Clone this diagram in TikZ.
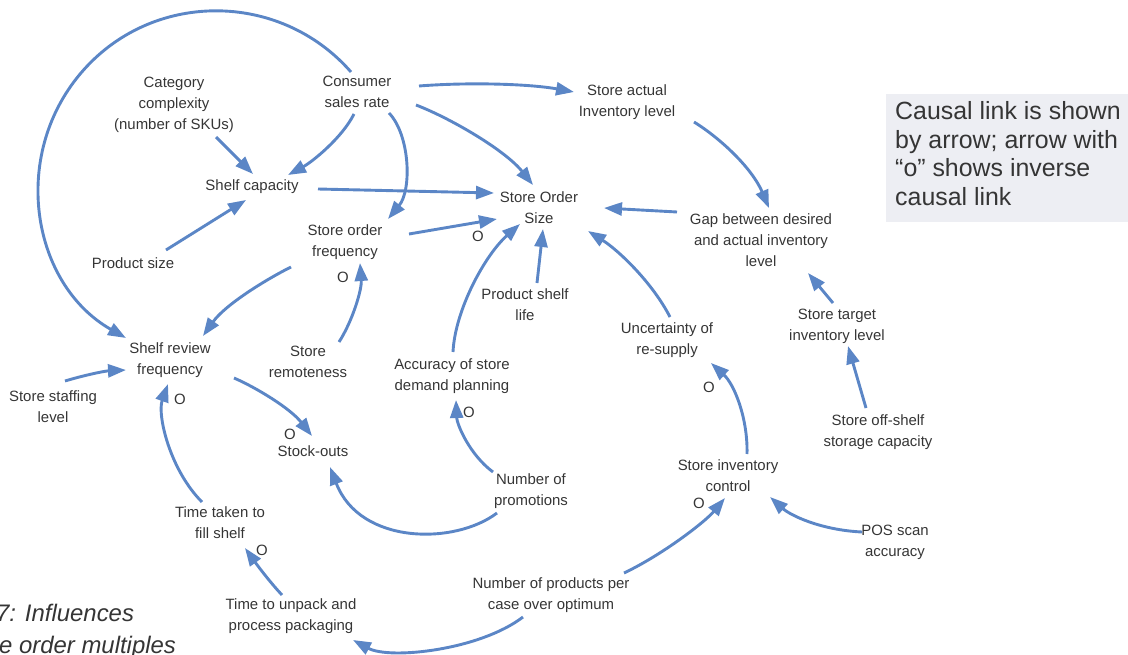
\documentclass[tikz,border=0pt]{standalone}
\usepackage{fontspec}
\setmainfont{Liberation Sans}
\usetikzlibrary{arrows.meta}
\definecolor{linkblue}{HTML}{5B86C6}
\definecolor{ink}{HTML}{353535}
\definecolor{legendbg}{HTML}{EDEEF3}

\begin{document}
\begin{tikzpicture}[x=1bp, y=-1bp,
  var/.style={font=\fontsize{15}{21}\selectfont, text=ink, align=center, inner sep=0pt},
  inv/.style={font=\fontsize{15}{21}\selectfont, text=ink, inner sep=0pt},
  link/.style={draw=linkblue, line width=2.9bp, line join=round,
               -{Triangle[length=18bp,width=13bp]}},
  capt/.style={font=\itshape\fontsize{24}{32}\selectfont, text=ink, anchor=base west, inner sep=0pt},
]
\useasboundingbox (0,0) rectangle (1128,655);
\clip (0,0) rectangle (1128,655);

% legend box
\fill[legendbg] (886,94) rectangle (1140,222);
\node[font=\fontsize{25}{28.7}\selectfont, text=ink, align=left, anchor=north west, inner sep=0pt]
  (legend) at (895,101.5) {Causal link is shown\\by arrow; arrow with\\“o” shows inverse\\causal link};

% caption fragments
\node[capt] (cap1) at (-4,621) {7: Influences};
\node[capt] (cap2) at (-1,653) {e order multiples};

% variables
\node[var] (csr)   at (357,92)  {Consumer\\sales rate};
\node[var] (cat)   at (174,105) {Category\\complexity\\(number of SKUs)};
\node[var] (sc)    at (252,187) {Shelf capacity};
\node[var] (ps)    at (133,263) {Product size};
\node[var] (sof)   at (345,242) {Store order\\frequency};
\node[var] (sai)   at (627,102) {Store actual\\Inventory level};
\node[var] (sos)   at (539,208) {Store Order\\Size};
\node[var] (gap)   at (761,240) {Gap between desired\\and actual inventory\\level};
\node[var] (psl)   at (525,305) {Product shelf\\life};
\node[var] (unc)   at (667,340) {Uncertainty of\\re-supply};
\node[var] (sti)   at (837,326) {Store target\\inventory level};
\node[var] (off)   at (878,432) {Store off-shelf\\storage capacity};
\node[var] (srf)   at (170,360) {Shelf review\\frequency};
\node[var] (rem)   at (308,362) {Store\\remoteness};
\node[var] (acc)   at (452,376) {Accuracy of store\\demand planning};
\node[var] (staff) at (53,407)  {Store staffing\\level};
\node[var] (so)    at (313,451) {Stock-outs};
\node[var] (np)    at (531,491) {Number of\\promotions};
\node[var] (sic)   at (728,476) {Store inventory\\control};
\node[var] (pos)   at (895,542) {POS scan\\accuracy};
\node[var] (ttf)   at (220,523) {Time taken to\\fill shelf};
\node[var] (tup)   at (291,616) {Time to unpack and\\process packaging};
\node[var] (npc)   at (551,595) {Number of products per\\case over optimum};

% inverse-link markers
\node[inv] (o1) at (478,236) {O};
\node[inv] (o2) at (343,277) {O};
\node[inv] (o3) at (180,399) {O};
\node[inv] (o4) at (290,434) {O};
\node[inv] (o5) at (469,412) {O};
\node[inv] (o6) at (709,387) {O};
\node[inv] (o7) at (699,503) {O};
\node[inv] (o8) at (262,550) {O};

% causal links
\draw[link] ([shift={(-6,-20)}]csr.center) .. controls (279.5,-9.9) and (150.5,-9.9) .. (80.2,73.9)
            .. controls (9.9,157.7) and (32.3,284.7) .. ([shift={(-44,-22)}]srf.center);
\draw[link] ([shift={(-3,22)}]csr.center) .. controls (342,138) and (312,162) .. ([shift={(36,-12)}]sc.center);
\draw[link] ([shift={(32,21)}]csr.center) .. controls (410,135) and (412,190) .. ([shift={(43,-23)}]sof.center);
\draw[link] ([shift={(62,-6)}]csr.center) .. controls (470,82) and (530,84) .. ([shift={(-53,-10)}]sai.center);
\draw[link] ([shift={(59,13)}]csr.center) .. controls (450,118) and (505,150) .. ([shift={(-6,-23)}]sos.center);
\draw[link] ([shift={(42,32)}]cat.center) -- ([shift={(1,-13)}]sc.center);
\draw[link] ([shift={(33,-13)}]ps.center) -- ([shift={(-6,13)}]sc.center);
\draw[link] ([shift={(66,2)}]sc.center) -- ([shift={(-45,-15)}]sos.center);
\draw[link] ([shift={(64,-8)}]sof.center) -- ([shift={(-42,11)}]sos.center);
\draw[link] ([shift={(67,20)}]sai.center) .. controls (720,138) and (752,168) .. ([shift={(8,-32)}]gap.center);
\draw[link] ([shift={(-84,-28)}]gap.center) -- ([shift={(65,0)}]sos.center);
\draw[link] ([shift={(12,-22)}]psl.center) -- ([shift={(4,21)}]sos.center);
\draw[link] ([shift={(1,-24)}]acc.center) .. controls (455,310) and (485,255) .. ([shift={(-19,16)}]sos.center);
\draw[link] ([shift={(3,-23)}]unc.center) .. controls (652,282) and (618,250) .. ([shift={(49,23)}]sos.center);
\draw[link] ([shift={(-4,-23)}]sti.center) -- ([shift={(47,33)}]gap.center);
\draw[link] ([shift={(-12,-24)}]off.center) -- ([shift={(11,20)}]sti.center);
\draw[link] ([shift={(-54,25)}]sof.center) .. controls (265,280) and (225,305) .. ([shift={(33,-24)}]srf.center);
\draw[link] ([shift={(31,-20)}]rem.center) .. controls (352,322) and (362,290) .. ([shift={(15,21)}]sof.center);
\draw[link] ([shift={(12,-26)}]staff.center) .. controls (85,375) and (105,371) .. ([shift={(-44,10)}]srf.center);
\draw[link] ([shift={(64,18)}]srf.center) .. controls (255,387) and (290,408) .. ([shift={(-1,-15)}]so.center);
\draw[link] ([shift={(-34,22)}]np.center) .. controls (455,545) and (360,545) .. ([shift={(17,16)}]so.center);
\draw[link] ([shift={(-38,-19)}]np.center) .. controls (470,455) and (457,425) .. ([shift={(4,24)}]acc.center);
\draw[link] ([shift={(-18,-21)}]ttf.center) .. controls (170,470) and (157,415) .. ([shift={(-2,24)}]srf.center);
\draw[link] ([shift={(-9,-21)}]tup.center) .. controls (268,580) and (255,562) .. ([shift={(25,25)}]ttf.center);
\draw[link] ([shift={(-28,22)}]npc.center) .. controls (480,650) and (390,660) .. ([shift={(62,24)}]tup.center);
\draw[link] ([shift={(73,-22)}]npc.center) .. controls (662,555) and (705,522) .. ([shift={(-3,22)}]sic.center);
\draw[link] ([shift={(19,-22)}]sic.center) .. controls (748,420) and (735,385) .. ([shift={(44,23)}]unc.center);
\draw[link] ([shift={(-33,-10)}]pos.center) .. controls (820,530) and (790,515) .. ([shift={(42,21)}]sic.center);
\end{tikzpicture}
\end{document}
